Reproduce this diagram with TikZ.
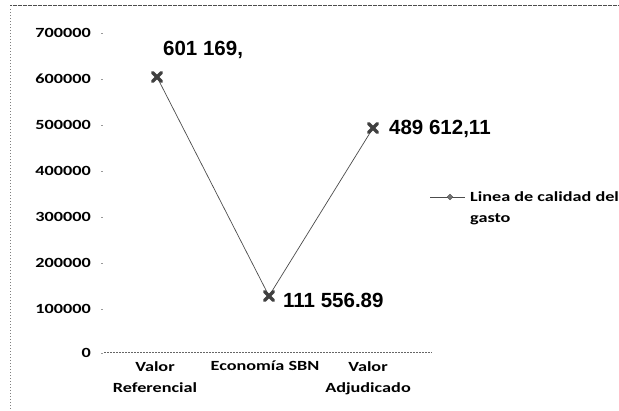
\documentclass[tikz,border=0pt]{standalone}
\usepackage{fontspec}
\setmainfont{Carlito}
\newfontfamily\axfont[FakeStretch=1.3]{Carlito}
\newfontfamily\arialfont{Liberation Sans}
\usetikzlibrary{shapes.geometric}
\tikzset{
  axlabel/.style={font=\axfont\bfseries\fontsize{14}{21}\selectfont, inner sep=0pt},
  catlabel/.style={font=\axfont\bfseries\fontsize{14}{21}\selectfont, align=center, inner sep=0pt, anchor=north},
  datalabel/.style={font=\arialfont\bfseries\fontsize{20.5}{22}\selectfont, inner sep=0pt},
  frame/.style={draw=black!70, line width=0.6pt, dash pattern=on 2pt off 0.5pt},
  series/.style={draw=black!70, line width=0.7pt},
  xmark/.style={draw=black!75, line width=3.5pt, line cap=round},
}
\begin{document}
\begin{tikzpicture}[x=1pt,y=-1pt]
\useasboundingbox (0,0) rectangle (619,410);
% frame
\draw[frame] (10,5) -- (619,5);
\draw[draw=black!50, line width=0.5pt, dash pattern=on 1pt off 2pt] (10,9) -- (10,410);
% y axis labels
\foreach \v/\y in {700000/33,600000/79,500000/125,400000/171,300000/217,200000/263,100000/309,0/353}{
  \node[axlabel, anchor=east] (y\v) at (91,\y) {\v};
  \draw[black!40, line width=0.5pt] (101,\y) -- (103,\y);
}
% x axis
\coordinate (xa) at (104,352);
\coordinate (xb) at (432,352);
\draw[black!60, line width=0.6pt, dash pattern=on 2pt off 1pt] (xa) -- (xb);
% categories
\node[catlabel] (c1) at (155,361) {Valor\\Referencial};
\node[catlabel] (c2) at (265,361) {Economía SBN};
\node[catlabel] (c3) at (368,361) {Valor\\Adjudicado};
% data points
\coordinate (p1) at (157,77);
\coordinate (p2) at (269,296);
\coordinate (p3) at (373,128);
\draw[series] (p1) -- (p2) -- (p3);
\foreach \p in {p1,p2,p3}{
  \draw[xmark] ([shift={(-4.5,-4.5)}]\p) -- ([shift={(4.5,4.5)}]\p);
  \draw[xmark] ([shift={(-4.5,4.5)}]\p) -- ([shift={(4.5,-4.5)}]\p);
}
% data labels
\node[datalabel, anchor=west] (l1) at (163,50) {601 169,};
\node[datalabel, anchor=west] (l3) at (389,129) {489 612,11};
\node[datalabel, anchor=west] (l2) at (283,300) {111 556.89};
% legend
\coordinate (la) at (430,197);
\coordinate (lb) at (465,197);
\draw[series] (la) -- (lb);
\node[diamond, fill=black!55, draw=black!70, inner sep=0pt, minimum size=6pt] (lm) at (450,197) {};
\node[axlabel, anchor=west, align=left] (lt) at (470,208) {Linea de calidad del\\gasto};
\end{tikzpicture}
\end{document}
